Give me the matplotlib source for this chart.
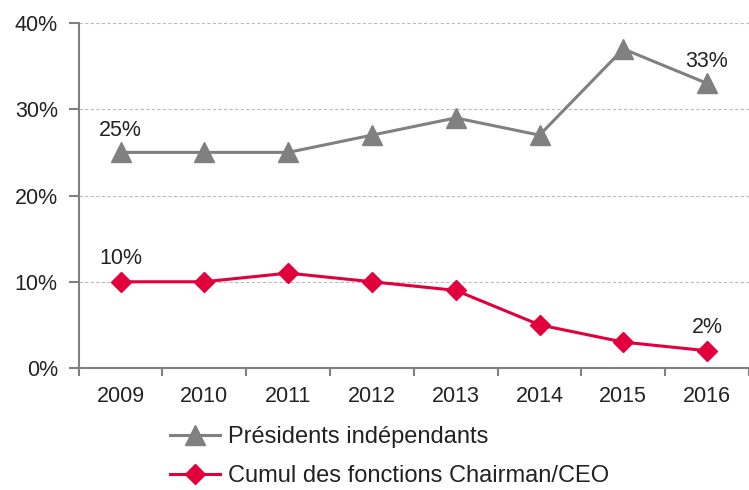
import matplotlib
matplotlib.use("Agg")
import matplotlib.pyplot as plt

years = ["2009", "2010", "2011", "2012", "2013", "2014", "2015", "2016"]
presidents = [25, 25, 25, 27, 29, 27, 37, 33]
cumul = [10, 10, 11, 10, 9, 5, 3, 2]
yticks = [0, 10, 20, 30, 40]
name_pres = "Présidents indépendants"
name_cumul = "Cumul des fonctions Chairman/CEO"

plt.rcParams['font.family'] = ['Liberation Sans', 'DejaVu Sans']

GRAY = "#808080"
RED = "#E2003C"
TXT = "#222222"

fig = plt.figure(figsize=(7.49, 4.90), dpi=100)
ax = fig.add_axes([0.105, 0.249, 0.895, 0.704])

x = list(range(len(years)))
l1, = ax.plot(x, presidents, color=GRAY, lw=2.2, marker='^', ms=14.5, label=name_pres, zorder=3)
l2, = ax.plot(x, cumul, color=RED, lw=2.2, marker='D', ms=10.5, label=name_cumul, zorder=3)

for i in (0, len(years) - 1):
    ax.annotate(f"{presidents[i]}%", (x[i], presidents[i]), xytext=(0, 8), textcoords='offset points',
                ha='center', va='bottom', fontsize=15.5, color=TXT)
    ax.annotate(f"{cumul[i]}%", (x[i], cumul[i]), xytext=(0, 9), textcoords='offset points',
                ha='center', va='bottom', fontsize=15.5, color=TXT)

ax.set_xlim(-0.5, len(years) - 0.5)
ax.set_ylim(0, 40)
ax.set_yticks(yticks)
ax.set_yticklabels([f"{v}%" for v in yticks])
ax.set_xticks(x)
ax.set_xticklabels(years)
ax.set_xticks([i - 0.5 for i in range(len(years) + 1)], minor=True)
ax.tick_params(axis='x', which='major', length=0, pad=13, labelsize=15.5, labelcolor=TXT)
ax.tick_params(axis='x', which='minor', length=6, width=1.5, color=GRAY, direction='out')
ax.tick_params(axis='y', length=7, width=1.5, color=GRAY, pad=8, labelsize=15.5, labelcolor=TXT)

ax.grid(axis='y', color='#BBBBBB', lw=0.8, ls=(0, (3, 2)))
ax.set_axisbelow(True)
for s in ('top', 'right'):
    ax.spines[s].set_visible(False)
for s in ('left', 'bottom'):
    ax.spines[s].set_color(GRAY)
    ax.spines[s].set_linewidth(1.5)
ax.spines['bottom'].set_zorder(4)

fig.legend(handles=[l1, l2], loc='upper left', bbox_to_anchor=(0.227, 0.131), frameon=False,
           fontsize=17, handlelength=2.1, handletextpad=0.34, labelspacing=0.74,
           labelcolor=TXT, borderaxespad=0, borderpad=0)

fig.savefig("out.png", dpi=100)
